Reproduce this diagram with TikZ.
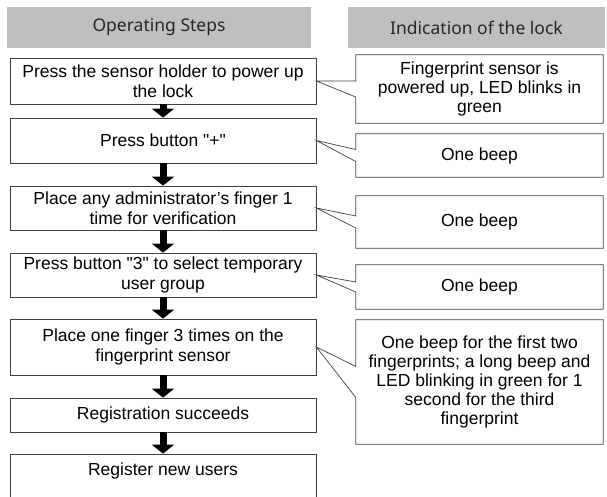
\documentclass[tikz,border=0pt]{standalone}
\usepackage{fontspec}
\setmainfont{Liberation Sans}[Ligatures=TeXOff]
\newfontfamily\headfont{Noto Sans}
\usepackage{tikz}
\usetikzlibrary{arrows.meta}

\tikzstyle{head} = [rectangle, fill=black!25, minimum height=41pt, inner sep=0pt, text=black!85, font=\headfont\fontsize{17.5}{20}\selectfont]
\tikzstyle{stepbox} = [rectangle, draw=black!75, line width=0.7pt, minimum width=306pt, align=center, font=\fontsize{17.5}{19.5}\selectfont]
\tikzstyle{signbox} = [rectangle, minimum width=247pt, align=center, font=\fontsize{17.5}{19}\selectfont]
\tikzstyle{arrow} = [line width=7pt, -{Triangle[width=22pt,length=9pt]}]
\tikzstyle{callout} = [draw=black!75, line width=0.7pt]

\begin{document}
\begin{tikzpicture}[x=1pt, y=-1pt]
    \useasboundingbox (0,0) rectangle (607,497);
    \clip (0,0) rectangle (607,497);

    % column heads
    \node (HL) [head, minimum width=304pt] at (159,27.5) {Operating Steps};
    \node (HR) [head, minimum width=257pt] at (476.5,27.5) {Indication of the lock};

    % operating steps
    \node (B1) [stepbox, minimum height=46pt] at (163,81) {Press the sensor holder to power up\\the lock};
    \node (B2) [stepbox, minimum height=45pt] at (163,140.5) {Press button "+"};
    \node (B3) [stepbox, minimum height=44pt] at (163,208) {Place any administrator’s finger 1\\time for verification};
    \node (B4) [stepbox, minimum height=44pt] at (163,275) {Press button "3" to select temporary\\user group};
    \node (B5) [stepbox, minimum height=56pt] at (163,347) {Place one finger 3 times on the\\fingerprint sensor};
    \node (B6) [stepbox, minimum height=34pt] at (163,415) {Registration succeeds};
    \node (B7) [stepbox, minimum height=58pt, text depth=27pt] at (163,483) {Register new users};

    \foreach \a/\b in {B1/B2, B2/B3, B3/B4, B4/B5, B5/B6, B6/B7}
        \draw[arrow] (\a) -- (\b);

    % indications
    \node (R1) [signbox, minimum height=68pt] at (479.5,89) {Fingerprint sensor is\\powered up, LED blinks in\\green};
    \node (R2) [signbox, minimum height=43pt] at (479.5,155.5) {One beep};
    \node (R3) [signbox, minimum height=52pt] at (479.5,222) {One beep};
    \node (R4) [signbox, minimum height=44pt] at (479.5,287) {One beep};
    \node (R5) [signbox, minimum height=124pt] at (479.5,382) {One beep for the first two\\fingerprints; a long beep and\\LED blinking in green for 1\\second for the third\\fingerprint};

    \foreach \r/\b/\w in {R1/B1/8, R2/B2/6, R3/B3/6, R4/B4/5, R5/B5/15.5}
        \draw[callout] ([yshift=\w pt]\r.west) -- (\r.north west) -- (\r.north east) -- (\r.south east)
            -- (\r.south west) -- ([yshift=-\w pt]\r.west) -- (\b.east) -- cycle;

\end{tikzpicture}
\end{document}
